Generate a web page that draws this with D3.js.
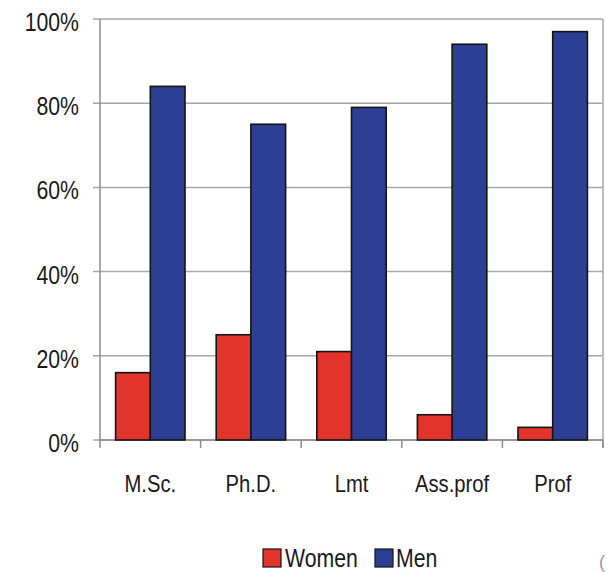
<!DOCTYPE html>
<html>
<head>
<meta charset="utf-8">
<script src="https://cdn.jsdelivr.net/npm/d3@7"></script>
<style>
  html, body { margin: 0; padding: 0; background: #fff; }
  svg { display: block; }
  text { font-family: "Liberation Sans", Arial, sans-serif; fill: #1a1a1a; }
</style>
</head>
<body>
<svg id="chart" width="607" height="572"></svg>
<script>
// Share of women and men by academic degree / position
const categories = ["M.Sc.", "Ph.D.", "Lmt", "Ass.prof", "Prof"];
const women = [16, 25, 21, 6, 3];
const men = [84, 75, 79, 94, 97];
const seriesNames = ["Women", "Men"];
const yTicks = [0, 20, 40, 60, 80, 100];

const colors = { Women: "#e2342b", Men: "#2d3f95" };

const svg = d3.select("#chart");
const plot = { left: 100, right: 603, top: 19, bottom: 440 };
const narrow = 0.85; // horizontal squeeze for a condensed look

const x = d3.scaleBand().domain(categories).range([plot.left, plot.right]).paddingInner(0.31).paddingOuter(0.155);
const xs = d3.scaleBand().domain(seriesNames).range([0, x.bandwidth()]);
const y = d3.scaleLinear().domain([0, 100]).range([plot.bottom, plot.top]);

// horizontal gridlines with short tick stubs on the left
svg.append("g").selectAll("line").data(yTicks).join("line")
  .attr("x1", plot.left - 7).attr("x2", plot.right)
  .attr("y1", d => y(d)).attr("y2", d => y(d))
  .attr("stroke", "#a6a6a6").attr("stroke-width", 1.5);

// y-axis labels
svg.append("g").selectAll("text").data(yTicks).join("text")
  .attr("transform", d => `translate(79,${y(d) + 12}) scale(${narrow},1)`)
  .attr("text-anchor", "end")
  .style("font-size", "25px")
  .text(d => d + "%");

// left and right frame lines
svg.append("line").attr("x1", plot.left).attr("x2", plot.left)
  .attr("y1", plot.top).attr("y2", plot.bottom)
  .attr("stroke", "#8c8c8c").attr("stroke-width", 1.5);
svg.append("line").attr("x1", plot.right).attr("x2", plot.right)
  .attr("y1", plot.top).attr("y2", plot.bottom + 8)
  .attr("stroke", "#a6a6a6").attr("stroke-width", 1.5);

// x-axis category separators
const sepX = categories.map(c => x(c) - x.step() * x.paddingOuter()).concat([plot.right]);
svg.append("g").selectAll("line").data(sepX).join("line")
  .attr("x1", d => d).attr("x2", d => d)
  .attr("y1", plot.bottom).attr("y2", plot.bottom + 8)
  .attr("stroke", "#8c8c8c").attr("stroke-width", 1.5);
svg.append("line").attr("x1", plot.left).attr("x2", plot.right)
  .attr("y1", plot.bottom).attr("y2", plot.bottom)
  .attr("stroke", "#8c8c8c").attr("stroke-width", 1.5);

// bars
const rows = categories.map((c, i) => ({ cat: c, Women: women[i], Men: men[i] }));
const groups = svg.append("g").selectAll("g").data(rows).join("g")
  .attr("transform", d => `translate(${x(d.cat)},0)`);
groups.selectAll("rect").data(d => seriesNames.map(s => ({ s, v: d[s] }))).join("rect")
  .attr("x", d => xs(d.s))
  .attr("y", d => y(d.v))
  .attr("width", xs.bandwidth())
  .attr("height", d => plot.bottom - y(d.v))
  .attr("fill", d => colors[d.s])
  .attr("stroke", "#141414").attr("stroke-width", 1.6);

// category labels
svg.append("g").selectAll("text").data(categories).join("text")
  .attr("transform", d => `translate(${x(d) + x.bandwidth() / 2},492) scale(0.88,1)`)
  .attr("text-anchor", "middle")
  .style("font-size", "23px")
  .text(d => d);

// legend
const legendItems = [
  { s: "Women", box: 263, label: 285 },
  { s: "Men", box: 375, label: 396 }
];
const legend = svg.append("g");
legend.selectAll("rect").data(legendItems).join("rect")
  .attr("x", d => d.box).attr("y", 549).attr("width", 18).attr("height", 18)
  .attr("fill", d => colors[d.s]).attr("stroke", "#141414").attr("stroke-width", 1.2);
legend.selectAll("text").data(legendItems).join("text")
  .attr("transform", d => `translate(${d.label},567) scale(${narrow},1)`)
  .style("font-size", "25px")
  .text(d => d.s);

// corner mark
svg.append("text").attr("x", 599).attr("y", 568)
  .style("font-size", "18px").style("fill", "#9a9a9a").text("(");
</script>
</body>
</html>
